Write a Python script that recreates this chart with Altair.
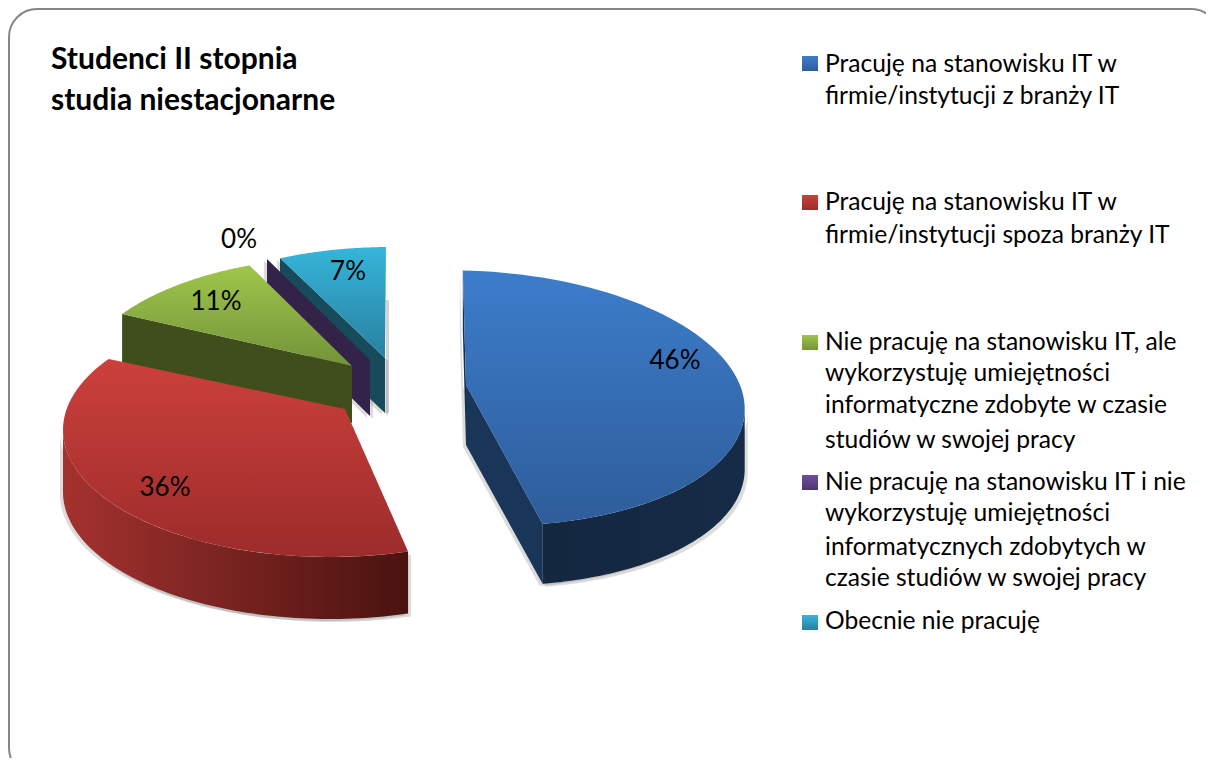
import numpy as np
import pandas as pd
import altair as alt

# ---- chart content ----
VALUES = [46, 36, 11, 0, 7]
PCT_LABELS = ["46%", "36%", "11%", "0%", "7%"]
LABEL_X = [675, 165, 216, 239, 348]
LABEL_Y = [369, 496, 310, 248, 280]
TITLE_LINES = ["Studenci II stopnia", "studia niestacjonarne"]
LEGEND_LINES = [
    ["Pracuję na stanowisku IT w", "firmie/instytucji z branży IT"],
    ["Pracuję na stanowisku IT w", "firmie/instytucji spoza branży IT"],
    ["Nie pracuję na stanowisku IT, ale", "wykorzystuję umiejętności", "informatyczne zdobyte w czasie", "studiów w swojej pracy"],
    ["Nie pracuję na stanowisku IT i nie", "wykorzystuję umiejętności", "informatycznych zdobytych w", "czasie studiów w swojej pracy"],
    ["Obecnie nie pracuję"],
]
LEGEND_BASE = [[72, 104], [210, 243], [350, 381, 413, 448], [490, 521, 555, 586], [629]]
LEGEND_SWATCH_Y = [56, 195, 335, 475, 615]
TOP_STOPS = [["#3c7dcb", "#2e5d9a"], ["#cc403c", "#9c2c2a"], ["#9fc64b", "#73933a"], ["#6f4f9c", "#4d3570"], ["#35b5da", "#2880a0"]]

# ---- projection of each exploded slice (ellipse of the tilted pie) ----
ELL_CX = [475, 330, 345, 390]
ELL_CY = [398, 430, 384, 374]
ELL_A = [270, 267, 267, 267]
ELL_B = [127, 127, 127, 127]
ELL_TILT = [3, 0, 0, 0]
ELL_START = [-94, 73, 213.4, 245.7]
ELL_STRETCH = [1.015, 1.088, 0.9, 0.93]
APEX = [(466, 385), (345, 409), (352, 366), (385, 358)]
DEPTH = [60, 62, 57, 55]
SLIVER = ((267, 259), (370, 360))

xs = alt.Scale(domain=[8, 1206], range=[0, 1198], nice=False, zero=False)
ys = alt.Scale(domain=[8, 758], range=[0, 750], nice=False, zero=False)


def arc(k, s0=None, s1=None):
    v = [46, 36, 11, 7][k]
    start = ELL_START[k] if s0 is None else s0
    end = ELL_START[k] + v * 3.6 * ELL_STRETCH[k] if s1 is None else s1
    s = np.radians(np.linspace(start, end, 80))
    p = np.radians(ELL_TILT[k])
    x = ELL_CX[k] + ELL_A[k] * np.cos(s) * np.cos(p) - ELL_B[k] * np.sin(s) * np.sin(p)
    y = ELL_CY[k] + ELL_A[k] * np.cos(s) * np.sin(p) + ELL_B[k] * np.sin(s) * np.cos(p)
    return list(zip(x.tolist(), y.tolist()))


def poly(points, fill, **kw):
    df = pd.DataFrame(points + [points[0]], columns=["x", "y"])
    df["i"] = range(len(df))
    return alt.Chart(df).mark_line(fill=fill, stroke=kw.pop("stroke", "transparent"), strokeWidth=kw.pop("sw", 0),
                                   interpolate="linear", **kw).encode(
        x=alt.X("x:Q", scale=xs, axis=None),
        y=alt.Y("y:Q", scale=ys, axis=None),
        order=alt.Order("i:Q"),
    )


def grad(c0, c1, horiz=False):
    return alt.Gradient(gradient="linear",
                        stops=[alt.GradientStop(color=c0, offset=0), alt.GradientStop(color=c1, offset=1)],
                        x1=0, y1=0, x2=1 if horiz else 0, y2=0 if horiz else 1)


def wall(points, d):
    return points + [(x, y + d) for x, y in reversed(points)]


def top(k, color):
    return poly([APEX[k]] + arc(k), grad(*color))


def shift(points, dx, dy):
    return [(x + dx, y + dy) for x, y in points]


layers = []

# panel border
border = pd.DataFrame({"x": [9], "x2": [1219], "y": [9], "y2": [776]})
layers.append(alt.Chart(border).mark_rect(cornerRadius=28, fill="white", stroke="#868686", strokeWidth=2, clip=True).encode(
    x=alt.X("x:Q", scale=xs, axis=None), x2="x2:Q",
    y=alt.Y("y:Q", scale=ys, axis=None), y2="y2:Q"))

# walls of each slice
blue_outer = wall(arc(0, -2, ELL_START[0] + 46 * 3.6 * ELL_STRETCH[0]), DEPTH[0])
blue_front = wall([APEX[0], arc(0)[-1]], DEPTH[0])
blue_back = wall([arc(0)[0], APEX[0]], DEPTH[0])
red_outer = wall(arc(1, ELL_START[1], 180), DEPTH[1])
green_wall = wall([arc(2)[0], APEX[2]], DEPTH[2])
teal_wall = wall([(280, 258), APEX[3]], DEPTH[3])
purple_wall = wall(list(SLIVER), 56)

# soft shadows
for pts in (blue_outer, blue_front, blue_back, red_outer, teal_wall, purple_wall):
    for dx, dy, op in ((-3, 2, 0.28), (3, 3, 0.28)):
        layers.append(poly(shift(pts, dx, dy), "#808080", fillOpacity=op))
layers.append(poly(shift([(386, 300), (386, 413)] + [(383, 413), (383, 300)], 3, 0), "#808080", fillOpacity=0.35))

layers.append(poly(teal_wall, "#174a5b"))
layers.append(top(3, TOP_STOPS[4]))
layers.append(poly(purple_wall, "#342348"))
layers.append(poly(green_wall, "#404e1c"))
layers.append(top(2, TOP_STOPS[2]))
layers.append(poly(red_outer, grad("#a4322f", "#4a1310", True)))
layers.append(top(1, TOP_STOPS[1]))
layers.append(poly(blue_back, "#16304f"))
layers.append(poly(blue_outer, grad("#14273f", "#162b47", True)))
layers.append(poly(blue_front, "#193659"))
layers.append(top(0, TOP_STOPS[0]))

FONT = "Lato"

# data labels
lab = pd.DataFrame({"x": LABEL_X, "y": LABEL_Y, "t": PCT_LABELS, "v": VALUES})
layers.append(alt.Chart(lab).mark_text(font=FONT, fontSize=26, color="#000000", align="center", baseline="alphabetic").encode(
    x=alt.X("x:Q", scale=xs, axis=None), y=alt.Y("y:Q", scale=ys, axis=None), text="t:N"))

# title
tdf = pd.DataFrame({"x": [51, 51], "y": [69, 110], "t": TITLE_LINES})
layers.append(alt.Chart(tdf).mark_text(font=FONT, fontSize=30, fontWeight="bold", color="#000000", align="left", baseline="alphabetic").encode(
    x=alt.X("x:Q", scale=xs, axis=None), y=alt.Y("y:Q", scale=ys, axis=None), text="t:N"))

# legend
rows = []
for lines, bases in zip(LEGEND_LINES, LEGEND_BASE):
    for t, b in zip(lines, bases):
        rows.append({"x": 825, "y": b, "t": t})
layers.append(alt.Chart(pd.DataFrame(rows)).mark_text(font=FONT, fontSize=24.6, color="#000000", align="left", baseline="alphabetic").encode(
    x=alt.X("x:Q", scale=xs, axis=None), y=alt.Y("y:Q", scale=ys, axis=None), text="t:N"))
for sy, st in zip(LEGEND_SWATCH_Y, TOP_STOPS):
    sw = pd.DataFrame({"x": [802], "x2": [818], "y": [sy], "y2": [sy + 15]})
    layers.append(alt.Chart(sw).mark_rect(fill=grad(*st)).encode(
        x=alt.X("x:Q", scale=xs, axis=None), x2="x2:Q",
        y=alt.Y("y:Q", scale=ys, axis=None), y2="y2:Q"))

chart = alt.layer(*layers).properties(
    width=1198, height=750, padding=0, background="white",
    autosize=alt.AutoSizeParams(type="none"),
).configure_view(stroke=None)

chart.save("out.html", embed_options={"renderer": "svg", "actions": False})
